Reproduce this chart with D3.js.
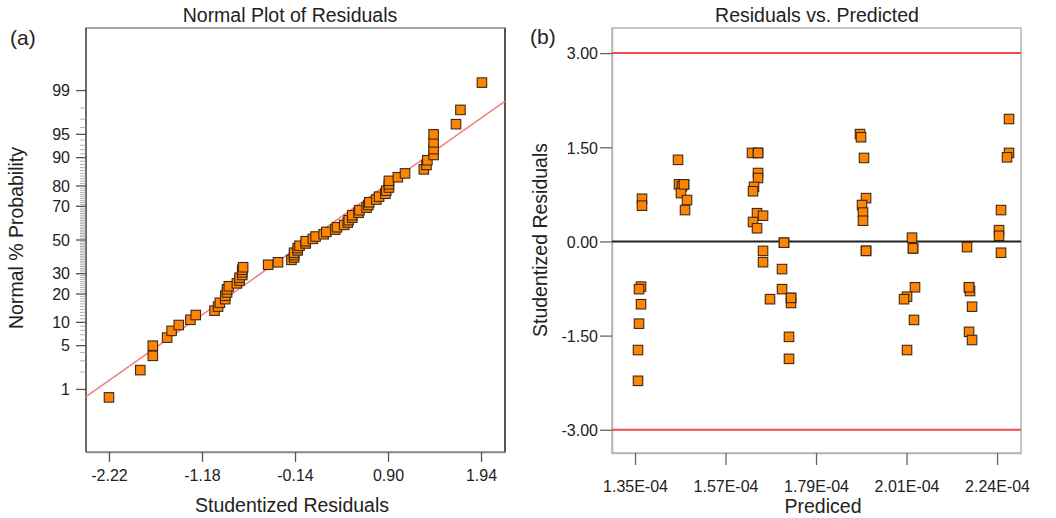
<!DOCTYPE html>
<html><head><meta charset="utf-8">
<script src="https://cdn.jsdelivr.net/npm/d3@7"></script>
<style>body{margin:0;background:#fff}svg{display:block;font-family:"Liberation Sans",Arial,sans-serif}</style>
</head><body><svg id="c" width="1056" height="518"></svg>
<script>
// Predicted values (units of 1E-04) and studentized residuals, one entry per run
const predicted = [
  1.3652,1.3652,1.3628,1.3579,1.3628,1.3579,1.3554,1.3554,
  1.4540,1.4564,1.4687,1.4638,1.4613,1.4761,1.4712,1.4687,
  1.6363,1.6511,1.6511,1.6511,1.6412,1.6388,1.6486,1.6634,1.6388,1.6486,1.6634,1.6634,1.6806,1.6511,
  1.7151,1.7102,1.7102,1.7324,1.7324,1.7274,1.7274,1.7324,1.7151,
  1.9024,1.9048,1.9122,1.9172,1.9073,1.9097,1.9097,1.9172,1.9172,
  2.0305,2.0330,2.0379,2.0182,2.0108,2.0354,2.0182,2.0330,
  2.1660,2.1710,2.1734,2.1784,2.1710,2.1784,2.1710,
  2.2695,2.2695,2.2646,2.2498,2.2449,2.2449,2.2498
];
const residuals = [
  0.68,0.57,-0.72,-0.76,-1.00,-1.31,-1.73,-2.22,
  1.30,0.91,0.91,0.88,0.77,0.66,0.50,0.91,
  1.41,1.41,1.09,1.01,0.87,0.80,0.45,0.41,0.31,0.21,-0.15,-0.33,-0.92,1.41,
  -0.02,-0.44,-0.76,-0.90,-0.98,-1.52,-1.87,-0.90,-0.02,
  1.71,1.66,1.33,0.69,0.58,0.46,0.33,-0.15,-0.15,
  0.06,-0.11,-0.73,-0.88,-0.92,-1.25,-1.73,-0.11,
  -0.09,-0.73,-0.79,-1.04,-1.44,-1.57,-0.73,
  1.95,1.41,1.34,0.50,0.18,0.09,-0.18
];
// Normal plot axes
const normXTicks = [-2.22,-1.18,-0.14,0.90,1.94];
const normXLabels = ["-2.22","-1.18","-0.14","0.90","1.94"];
const probMajor = [1,5,10,20,30,50,70,80,90,95,99];
const probMinor = [2,3,4,6,7,8,9,11,12,13,14,15,16,17,18,19,21,22,23,24,25,26,27,28,29,
  31,32,33,34,35,36,37,38,39,40,41,42,43,44,45,46,47,48,49,51,52,53,54,55,56,57,58,59,60,
  61,62,63,64,65,66,67,68,69,71,72,73,74,75,76,77,78,79,81,82,83,84,85,86,87,88,89,91,92,93,94,96,97,98];
const fitLineResid = [-2.48, 2.21];
const fitLineProb = [0.73, 98.47];
// Residuals vs predicted axes
const predTicks = [1.348,1.571,1.794,2.017,2.240];
const predLabels = ["1.35E-04","1.57E-04","1.79E-04","2.01E-04","2.24E-04"];
const residTicks = [3,1.5,0,-1.5,-3];
const residLabels = ["3.00","1.50","0.00","-1.50","-3.00"];
const limitLines = [3,-3];

function probit(p){ // inverse normal CDF (Acklam)
  const a=[-39.69683028665376,220.9460984245205,-275.9285104469687,138.3577518672690,-30.66479806614716,2.506628277459239];
  const b=[-54.47609879822406,161.5858368580409,-155.6989798598866,66.80131188771972,-13.28068155288572];
  const c=[-0.007784894002430293,-0.3223964580411365,-2.400758277161838,-2.549732539343734,4.374664141464968,2.938163982698783];
  const d=[0.007784695709041462,0.3224671290700398,2.445134137142996,3.754408661907416];
  const pl=0.02425;let q,r;
  if(p<pl){q=Math.sqrt(-2*Math.log(p));return (((((c[0]*q+c[1])*q+c[2])*q+c[3])*q+c[4])*q+c[5])/((((d[0]*q+d[1])*q+d[2])*q+d[3])*q+1);}
  if(p>1-pl){q=Math.sqrt(-2*Math.log(1-p));return -(((((c[0]*q+c[1])*q+c[2])*q+c[3])*q+c[4])*q+c[5])/((((d[0]*q+d[1])*q+d[2])*q+d[3])*q+1);}
  q=p-0.5;r=q*q;return (((((a[0]*r+a[1])*r+a[2])*r+a[3])*r+a[4])*r+a[5])*q/(((((b[0]*r+b[1])*r+b[2])*r+b[3])*r+b[4])*r+1);
}

const svg=d3.select("#c");
const ms=9.5;
const FT="Liberation Sans, Arial, sans-serif";
function square(g,data,fx,fy){
  g.selectAll("rect.pt").data(data).join("rect").attr("class","pt")
   .attr("x",d=>fx(d)-ms/2).attr("y",d=>fy(d)-ms/2).attr("width",ms).attr("height",ms)
   .attr("fill","#ff8400").attr("stroke","#3b2a1a").attr("stroke-width",1.1);
}

// ---------- Panel (a) ----------
const A={l:86,r:505,t:28,b:452};
const xa=d3.scaleLinear().domain([-2.477,2.208]).range([A.l,A.r]);
const za=d3.scaleLinear().domain([-3.3,3.3]).range([A.b,A.t]);
const ya=p=>za(probit(p/100));
const ga=svg.append("g");
ga.append("rect").attr("x",A.l).attr("y",A.t).attr("width",A.r-A.l).attr("height",A.b-A.t)
  .attr("fill","none").attr("stroke","#8a8a8a").attr("stroke-width",1.5);
ga.append("line").attr("x1",A.l).attr("x2",A.l).attr("y1",A.t).attr("y2",A.b).attr("stroke","#555").attr("stroke-width",1.5);
ga.append("line").attr("x1",A.r).attr("x2",A.r).attr("y1",A.t).attr("y2",A.b).attr("stroke","#555").attr("stroke-width",2);
// x axis
const xAxA=d3.axisBottom(xa).tickValues(normXTicks).tickFormat((d,i)=>normXLabels[i]).tickSize(10).tickSizeOuter(0);
const gxa=ga.append("g").attr("transform",`translate(0,${A.b})`).call(xAxA);
gxa.select(".domain").attr("stroke","#8a8a8a").attr("stroke-width",1.5);
gxa.selectAll(".tick line").attr("stroke","#555").attr("stroke-width",1.3);
gxa.selectAll(".tick text").attr("font-size",16).attr("fill","#222").attr("y",29).attr("dy",0).attr("font-family",FT);
// y ticks (probability scale)
ga.selectAll("line.mn").data(probMinor).join("line").attr("class","mn")
  .attr("x1",A.l-6).attr("x2",A.l).attr("y1",d=>ya(d)).attr("y2",d=>ya(d)).attr("stroke","#999").attr("stroke-width",0.8);
ga.selectAll("line.mj").data(probMajor).join("line").attr("class","mj")
  .attr("x1",A.l-10).attr("x2",A.l).attr("y1",d=>ya(d)).attr("y2",d=>ya(d)).attr("stroke","#555").attr("stroke-width",1.3);
ga.selectAll("text.mj").data(probMajor).join("text").attr("class","mj")
  .attr("x",A.l-16).attr("y",d=>ya(d)).attr("dy","0.36em").attr("text-anchor","end")
  .attr("font-size",16).attr("fill","#222").text(d=>d);
// fit line
ga.append("line").attr("x1",xa(fitLineResid[0])).attr("y1",ya(fitLineProb[0]))
  .attr("x2",xa(fitLineResid[1])).attr("y2",ya(fitLineProb[1]))
  .attr("stroke","#f47c7c").attr("stroke-width",1.5);
// points: sorted residuals with plotting positions (i-0.5)/n
const sorted=residuals.slice().sort((a,b)=>a-b);
const n=sorted.length;
const normPts=sorted.map((r,i)=>({r,p:100*(i+0.5)/n}));
square(ga.append("g"),normPts,d=>xa(d.r),d=>ya(d.p));
// titles
svg.append("text").attr("x",290).attr("y",22).attr("text-anchor","middle").attr("font-size",19.5).attr("fill","#222").text("Normal Plot of Residuals");
svg.append("text").attr("x",292).attr("y",512).attr("text-anchor","middle").attr("font-size",19.5).attr("fill","#222").text("Studentized Residuals");
svg.append("text").attr("transform","translate(23,238) rotate(-90)").attr("text-anchor","middle").attr("font-size",19.5).attr("fill","#222").text("Normal % Probability");
svg.append("text").attr("x",10).attr("y",45).attr("font-size",21).attr("fill","#222").text("(a)");

// ---------- Panel (b) ----------
const B={l:612,r:1021,t:28,b:453};
const xb=d3.scaleLinear().domain([1.2913e-4,2.299e-4]).range([B.l,B.r]);
const yb=d3.scaleLinear().domain([-3.37,3.40]).range([B.b,B.t]);
const gb=svg.append("g");
gb.append("rect").attr("x",B.l).attr("y",B.t).attr("width",B.r-B.l).attr("height",B.b-B.t)
  .attr("fill","none").attr("stroke","#b5b5b5").attr("stroke-width",1.5);
const xAxB=d3.axisBottom(xb).tickValues(predTicks.map(v=>v*1e-4)).tickFormat((d,i)=>predLabels[i]).tickSize(12).tickSizeOuter(0);
const gxb=gb.append("g").attr("transform",`translate(0,${B.b})`).call(xAxB);
gxb.select(".domain").attr("stroke","#b5b5b5").attr("stroke-width",1.5);
gxb.selectAll(".tick line").attr("stroke","#666").attr("stroke-width",1.3);
gxb.selectAll(".tick text").attr("font-size",16).attr("fill","#222").attr("y",39).attr("dy",0).attr("font-family",FT);
const yAxB=d3.axisLeft(yb).tickValues(residTicks).tickFormat((d,i)=>residLabels[i]).tickSize(12).tickSizeOuter(0);
const gyb=gb.append("g").attr("transform",`translate(${B.l},0)`).call(yAxB);
gyb.select(".domain").attr("stroke","#b5b5b5").attr("stroke-width",1.5);
gyb.selectAll(".tick line").attr("stroke","#666").attr("stroke-width",1.3);
gyb.selectAll(".tick text").attr("font-size",16).attr("fill","#222").attr("x",-14).attr("dy","0.36em").attr("font-family",FT);
gb.selectAll("line.lim").data(limitLines).join("line").attr("class","lim")
  .attr("x1",B.l).attr("x2",B.r).attr("y1",d=>yb(d)).attr("y2",d=>yb(d)).attr("stroke","#f24a4a").attr("stroke-width",2);
gb.append("line").attr("x1",B.l).attr("x2",B.r).attr("y1",yb(0)).attr("y2",yb(0)).attr("stroke","#222").attr("stroke-width",2);
const rvp=predicted.map((p,i)=>({x:p*1e-4,y:residuals[i]}));
square(gb.append("g"),rvp,d=>xb(d.x),d=>yb(d.y));
svg.append("text").attr("x",817).attr("y",22).attr("text-anchor","middle").attr("font-size",19.5).attr("fill","#222").text("Residuals vs. Predicted");
svg.append("text").attr("x",823).attr("y",513).attr("text-anchor","middle").attr("font-size",19.5).attr("fill","#222").text("Prediced");
svg.append("text").attr("transform","translate(547,240) rotate(-90)").attr("text-anchor","middle").attr("font-size",19.5).attr("fill","#222").text("Studentized Residuals");
svg.append("text").attr("x",530).attr("y",44).attr("font-size",21).attr("fill","#222").text("(b)");
</script></body></html>
